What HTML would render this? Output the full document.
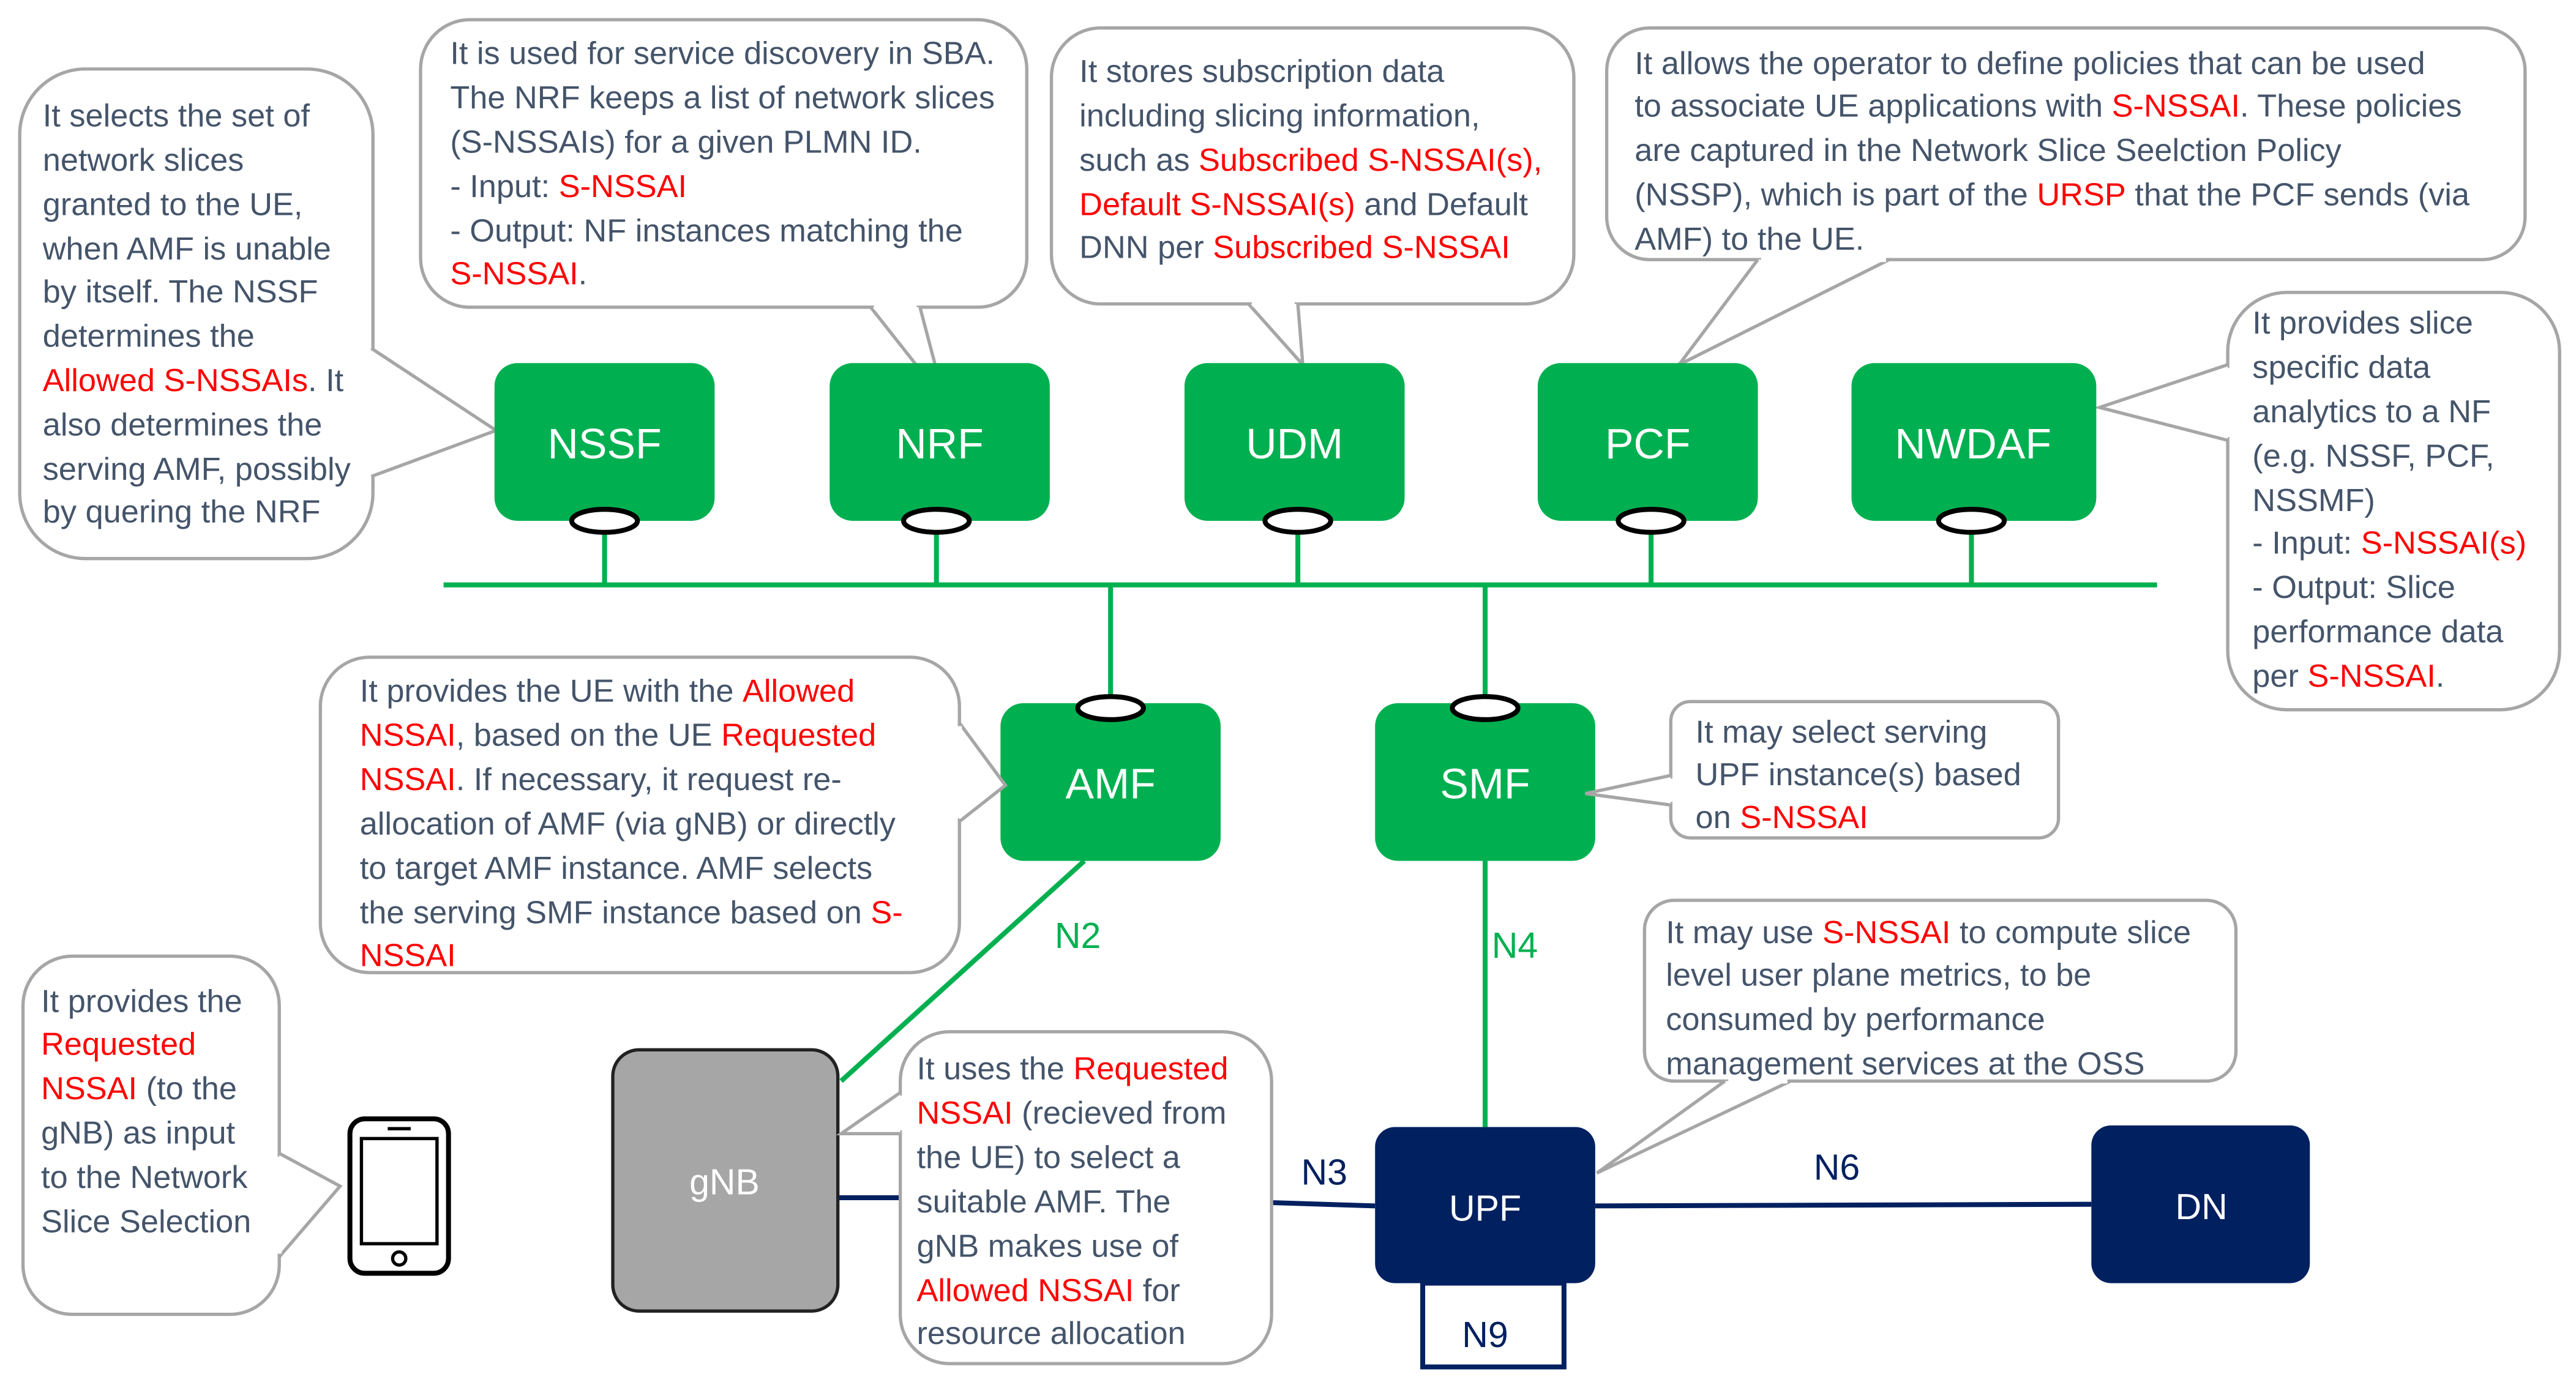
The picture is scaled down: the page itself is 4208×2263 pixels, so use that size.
<!DOCTYPE html>
<html><head><meta charset="utf-8"><style>
html,body{margin:0;padding:0;background:#fff;}
svg{display:block;}
text{font-family:"Liberation Sans",sans-serif;}
.t{font-size:19.5px;fill:#44546A;}
.r{fill:#FF0000;}
.c{fill:#fff;stroke:#A6A6A6;stroke-width:2;}
.p{fill:#fff;stroke:#A6A6A6;stroke-width:2;}
.g{fill:#00B050;}
.w{font-size:26px;fill:#fff;text-anchor:middle;}
.ell{fill:#fff;stroke:#000;stroke-width:3;}
</style></head><body>
<svg width="4208" height="2263" viewBox="0 0 1568 843" preserveAspectRatio="none" xmlns="http://www.w3.org/2000/svg">
<rect width="1568" height="843" fill="#fff"/>

<rect class="c" x="12" y="42" width="215" height="298" rx="40"/>
<polyline class="p" points="226,212 302,262 226,290"/>
<line x1="226" y1="214" x2="226" y2="288" stroke="#fff" stroke-width="3"/>
<g class="t">
<text x="26" y="77">It selects the set of</text>
<text x="26" y="104">network slices</text>
<text x="26" y="131">granted to the UE,</text>
<text x="26" y="158">when AMF is unable</text>
<text x="26" y="184">by itself. The NSSF</text>
<text x="26" y="211">determines the</text>
<text x="26" y="238"><tspan class="r">Allowed S-NSSAIs</tspan>. It</text>
<text x="26" y="265">also determines the</text>
<text x="26" y="292">serving AMF, possibly</text>
<text x="26" y="318">by quering the NRF</text>
</g>

<rect class="c" x="256" y="12" width="369" height="175" rx="30"/>
<polyline class="p" points="530,187 575,244 560,187"/>
<line x1="532" y1="187" x2="558" y2="187" stroke="#fff" stroke-width="3"/>
<g class="t">
<text x="274" y="39">It is used for service discovery in SBA.</text>
<text x="274" y="66">The NRF keeps a list of network slices</text>
<text x="274" y="93">(S-NSSAIs) for a given PLMN ID.</text>
<text x="274" y="120">- Input: <tspan class="r">S-NSSAI</tspan></text>
<text x="274" y="147">- Output: NF instances matching the</text>
<text x="274" y="173"><tspan class="r">S-NSSAI</tspan>.</text>
</g>

<rect class="c" x="640" y="17" width="318" height="168" rx="30"/>
<polyline class="p" points="760,185 793,222 790,185"/>
<line x1="762" y1="185" x2="788" y2="185" stroke="#fff" stroke-width="3"/>
<g class="t">
<text x="657" y="50">It stores subscription data</text>
<text x="657" y="77">including slicing information,</text>
<text x="657" y="104">such as <tspan class="r">Subscribed S-NSSAI(s),</tspan></text>
<text x="657" y="131"><tspan class="r">Default S-NSSAI(s)</tspan> and Default</text>
<text x="657" y="157">DNN per <tspan class="r">Subscribed S-NSSAI</tspan></text>
</g>

<rect class="c" x="978" y="17" width="559" height="141" rx="26"/>
<polyline class="p" points="1070,158 1022,222 1150,158"/>
<line x1="1072" y1="158" x2="1148" y2="158" stroke="#fff" stroke-width="3"/>
<g class="t">
<text x="995" y="45">It allows the operator to define policies that can be used</text>
<text x="995" y="71">to associate UE applications with <tspan class="r">S-NSSAI</tspan>.  These policies</text>
<text x="995" y="98">are captured in the Network Slice Seelction Policy</text>
<text x="995" y="125">(NSSP), which is part of the <tspan class="r">URSP</tspan> that the PCF sends (via</text>
<text x="995" y="152">AMF) to the UE.</text>
</g>

<rect class="c" x="1356" y="178" width="202" height="254" rx="36"/>
<polyline class="p" points="1356,222 1278,248 1356,268"/>
<line x1="1356" y1="224" x2="1356" y2="266" stroke="#fff" stroke-width="3"/>
<g class="t">
<text x="1371" y="203">It provides slice</text>
<text x="1371" y="230">specific data</text>
<text x="1371" y="257">analytics to a NF</text>
<text x="1371" y="284">(e.g. NSSF, PCF,</text>
<text x="1371" y="311">NSSMF)</text>
<text x="1371" y="337">- Input: <tspan class="r">S-NSSAI(s)</tspan></text>
<text x="1371" y="364">- Output: Slice</text>
<text x="1371" y="391">performance data</text>
<text x="1371" y="418">per <tspan class="r">S-NSSAI</tspan>.</text>
</g>

<line x1="270" y1="356" x2="1313" y2="356" stroke="#00B050" stroke-width="3"/>
<g stroke="#00B050" stroke-width="3">
<line x1="368" y1="317" x2="368" y2="356"/>
<line x1="570" y1="317" x2="570" y2="356"/>
<line x1="790" y1="317" x2="790" y2="356"/>
<line x1="1005" y1="317" x2="1005" y2="356"/>
<line x1="1200" y1="317" x2="1200" y2="356"/>
<line x1="676" y1="356" x2="676" y2="428"/>
<line x1="904" y1="356" x2="904" y2="428"/>
<line x1="660" y1="524" x2="512" y2="658"/>
<line x1="904" y1="524" x2="904" y2="686"/>
</g>

<rect class="g" x="301" y="221" width="134" height="96" rx="14"/>
<rect class="g" x="505" y="221" width="134" height="96" rx="14"/>
<rect class="g" x="721" y="221" width="134" height="96" rx="14"/>
<rect class="g" x="936" y="221" width="134" height="96" rx="14"/>
<rect class="g" x="1127" y="221" width="149" height="96" rx="14"/>
<rect class="g" x="609" y="428" width="134" height="96" rx="14"/>
<rect class="g" x="837" y="428" width="134" height="96" rx="14"/>
<text class="w" x="368" y="279">NSSF</text>
<text class="w" x="572" y="279">NRF</text>
<text class="w" x="788" y="279">UDM</text>
<text class="w" x="1003" y="279">PCF</text>
<text class="w" x="1201" y="279">NWDAF</text>
<text class="w" x="676" y="486">AMF</text>
<text class="w" x="904" y="486">SMF</text>
<ellipse class="ell" cx="368" cy="317" rx="20" ry="7"/>
<ellipse class="ell" cx="570" cy="317" rx="20" ry="7"/>
<ellipse class="ell" cx="790" cy="317" rx="20" ry="7"/>
<ellipse class="ell" cx="1005" cy="317" rx="20" ry="7"/>
<ellipse class="ell" cx="1200" cy="317" rx="20" ry="7"/>
<ellipse class="ell" cx="676" cy="431" rx="20" ry="7"/>
<ellipse class="ell" cx="904" cy="431" rx="20" ry="7"/>

<rect class="c" x="195" y="400" width="389" height="192" rx="30"/>
<polyline class="p" points="584,440 612,478 584,500"/>
<line x1="584" y1="442" x2="584" y2="498" stroke="#fff" stroke-width="3"/>
<g class="t">
<text x="219" y="427">It provides the UE with the <tspan class="r">Allowed</tspan></text>
<text x="219" y="454"><tspan class="r">NSSAI</tspan>, based on the UE <tspan class="r">Requested</tspan></text>
<text x="219" y="481"><tspan class="r">NSSAI</tspan>. If necessary, it request re-</text>
<text x="219" y="508">allocation of AMF (via gNB) or directly</text>
<text x="219" y="535">to target AMF instance. AMF selects</text>
<text x="219" y="562">the serving SMF instance based on <tspan class="r">S-</tspan></text>
<text x="219" y="588"><tspan class="r">NSSAI</tspan></text>
</g>

<rect class="c" x="1017" y="427" width="236" height="83" rx="12"/>
<polyline class="p" points="1017,472 965,483 1017,490"/>
<line x1="1017" y1="474" x2="1017" y2="488" stroke="#fff" stroke-width="3"/>
<g class="t">
<text x="1032" y="452">It may select serving</text>
<text x="1032" y="478">UPF instance(s) based</text>
<text x="1032" y="504">on <tspan class="r">S-NSSAI</tspan></text>
</g>

<text x="642" y="577" font-size="22" fill="#00B050">N2</text>
<text x="908" y="583" font-size="22" fill="#00B050">N4</text>

<rect class="c" x="1001" y="548" width="360" height="110" rx="18"/>
<polyline class="p" points="1050,658 972,714 1090,658"/>
<line x1="1052" y1="658" x2="1088" y2="658" stroke="#fff" stroke-width="3"/>
<g class="t">
<text x="1014" y="574">It may use <tspan class="r">S-NSSAI</tspan> to compute slice</text>
<text x="1014" y="600">level user plane metrics, to be</text>
<text x="1014" y="627">consumed by performance</text>
<text x="1014" y="654">management services at the OSS</text>
</g>

<g stroke="#002060" stroke-width="3">
<line x1="510" y1="729" x2="548" y2="729"/>
<line x1="774" y1="732" x2="837" y2="734"/>
<line x1="971" y1="734" x2="1273" y2="733"/>
</g>
<text x="792" y="721" font-size="22" fill="#002060">N3</text>
<text x="1104" y="718" font-size="22" fill="#002060">N6</text>

<rect x="373" y="639" width="137" height="159" rx="16" fill="#A6A6A6" stroke="#222" stroke-width="2"/>
<text x="441" y="727" font-size="22" fill="#fff" text-anchor="middle">gNB</text>

<rect class="c" x="548" y="628" width="226" height="202" rx="30"/>
<polyline class="p" points="548,665 512,690 548,690"/>
<line x1="548" y1="667" x2="548" y2="688" stroke="#fff" stroke-width="3"/>
<g class="t">
<text x="558" y="657">It uses the <tspan class="r">Requested</tspan></text>
<text x="558" y="684"><tspan class="r">NSSAI</tspan> (recieved from</text>
<text x="558" y="711">the UE) to select a</text>
<text x="558" y="738">suitable AMF. The</text>
<text x="558" y="765">gNB makes use of</text>
<text x="558" y="792"><tspan class="r">Allowed NSSAI</tspan> for</text>
<text x="558" y="818">resource allocation</text>
</g>

<rect x="866" y="781" width="86" height="51" fill="#fff" stroke="#002060" stroke-width="3"/>
<text x="904" y="820" font-size="22" fill="#002060" text-anchor="middle">N9</text>
<rect x="837" y="686" width="134" height="95" rx="12" fill="#002060"/>
<text x="904" y="743" font-size="22" fill="#fff" text-anchor="middle">UPF</text>
<rect x="1273" y="685" width="133" height="96" rx="12" fill="#002060"/>
<text x="1340" y="742" font-size="22" fill="#fff" text-anchor="middle">DN</text>

<rect class="c" x="14" y="582" width="156" height="218" rx="30"/>
<polyline class="p" points="170,702 207,722 170,765"/>
<line x1="170" y1="704" x2="170" y2="763" stroke="#fff" stroke-width="3"/>
<g class="t">
<text x="25" y="616">It provides the</text>
<text x="25" y="642"><tspan class="r">Requested</tspan></text>
<text x="25" y="669"><tspan class="r">NSSAI</tspan> (to the</text>
<text x="25" y="696">gNB) as input</text>
<text x="25" y="723">to the Network</text>
<text x="25" y="750">Slice Selection</text>
</g>

<rect x="213" y="681" width="60" height="94" rx="9" fill="#fff" stroke="#000" stroke-width="3"/>
<rect x="220" y="693" width="46" height="64" fill="#fff" stroke="#000" stroke-width="2"/>
<line x1="236" y1="687" x2="250" y2="687" stroke="#000" stroke-width="2"/>
<circle cx="243" cy="766" r="4" fill="#fff" stroke="#000" stroke-width="2"/>
</svg>
</body></html>
